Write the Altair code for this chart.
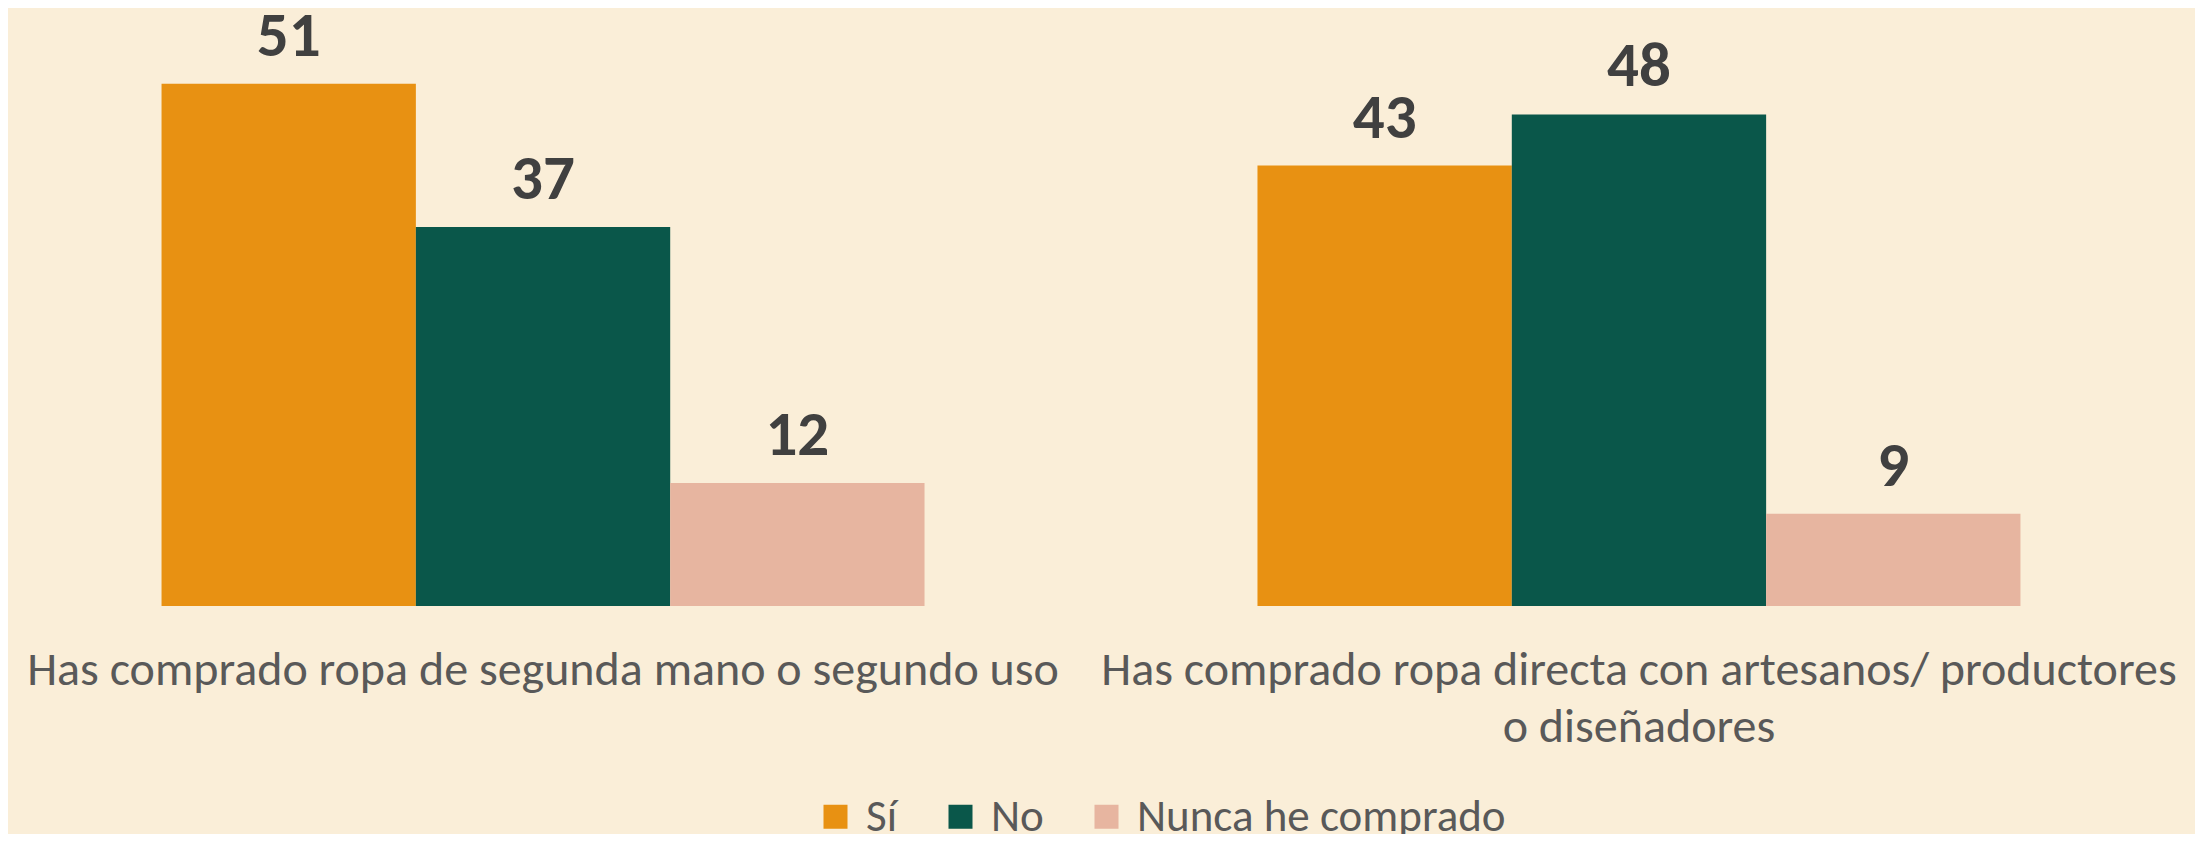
import altair as alt
import pandas as pd

# Data
categories = [
    "Has comprado ropa de segunda mano o segundo uso",
    "Has comprado ropa directa con artesanos/ productores\no diseñadores",
]
series = ["Sí", "No", "Nunca he comprado"]
values_q1 = [51, 37, 12]
values_q2 = [43, 48, 9]
colors = ["#E89112", "#0A574A", "#E7B5A0"]

rows = []
for cat, vals in zip(categories, [values_q1, values_q2]):
    for s, v in zip(series, vals):
        rows.append({"Pregunta": cat, "Respuesta": s, "Valor": v})
df = pd.DataFrame(rows)

FONT = "Carlito, Calibri, Lato, sans-serif"

x_enc = alt.X(
    "Pregunta:N",
    sort=categories,
    scale=alt.Scale(paddingInner=0.3038, paddingOuter=0.1401),
    axis=alt.Axis(
        title=None,
        labelAngle=0,
        labelLimit=0,
        labelFont=FONT,
        labelFontSize=48,
        labelColor="#595959",
        labelPadding=40,
        labelBaseline="top",
        labelLineHeight=57,
        labelExpr="split(datum.value, '\\n')",
        domain=False,
        ticks=False,
        grid=False,
    ),
)
xoff = alt.XOffset("Respuesta:N", sort=series,
                   scale=alt.Scale(paddingInner=0, paddingOuter=0))
y_enc = alt.Y("Valor:Q", scale=alt.Scale(domain=[0, 58], nice=False), axis=None)

bars = alt.Chart(df).mark_bar(strokeWidth=0).encode(
    x=x_enc,
    xOffset=xoff,
    y=y_enc,
    color=alt.Color(
        "Respuesta:N",
        sort=series,
        scale=alt.Scale(domain=series, range=colors),
        legend=alt.Legend(
            title=None,
            orient="none",
            direction="horizontal",
            legendX=805,
            legendY=782,
            padding=0,
            symbolType="square",
            symbolSize=576,
            symbolStrokeWidth=0,
            symbolOpacity=1,
            labelFont=FONT,
            labelFontSize=45,
            labelColor="#595959",
            labelOffset=8,
            columnPadding=40,
            labelLimit=0,
        ),
    ),
)

labels = alt.Chart(df).mark_text(
    font=FONT,
    fontSize=63,
    fontWeight="bold",
    color="#404040",
    baseline="alphabetic",
    dy=-28,
).encode(
    x=alt.X("Pregunta:N", sort=categories),
    xOffset=alt.XOffset("Respuesta:N", sort=series),
    y=alt.Y("Valor:Q"),
    text=alt.Text("Valor:Q"),
)

chart = (
    alt.layer(bars, labels)
    .properties(
        width=2166,
        height=594,
        background="#FAEED8",
        padding={"left": 0, "top": 4, "right": 21, "bottom": 228},
        autosize=alt.AutoSizeParams(type="none"),
    )
    .configure_view(stroke=None)
)

chart.save("out.html", embed_options={"renderer": "svg", "actions": False})
